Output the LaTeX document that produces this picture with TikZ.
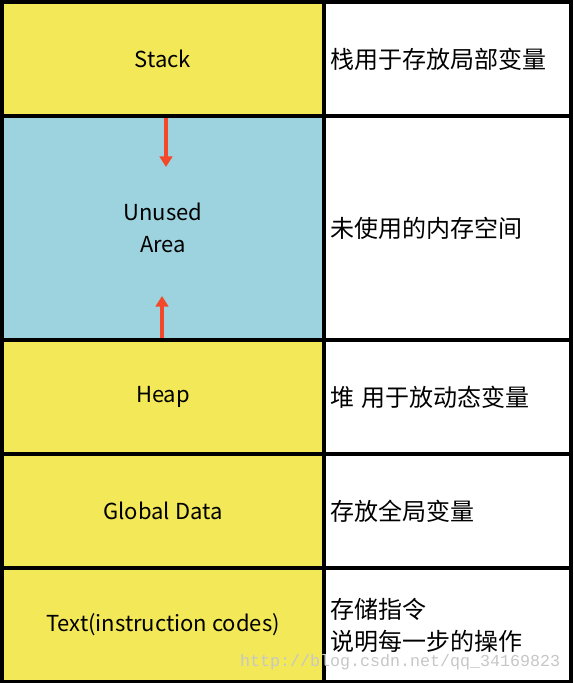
\documentclass[tikz,border=0pt]{standalone}
\usepackage{fontspec}
\setmainfont{Noto Sans CJK SC}
\newfontfamily\markfont{Liberation Mono}
\usetikzlibrary{arrows.meta, positioning}

\definecolor{segyellow}{RGB}{242,232,88}
\definecolor{segblue}{RGB}{157,211,222}
\definecolor{growred}{RGB}{244,72,42}

\tikzset{
  seg/.style={draw, line width=2.4pt, fill=segyellow, minimum width=241.5pt, inner sep=0pt, font=\fontsize{16.5}{24}\selectfont, align=center},
  note/.style={draw, line width=2.4pt, fill=white, minimum width=185.25pt, text width=176.25pt, inner xsep=4.5pt, inner ysep=0pt, align=left, font=\fontsize{18}{24}\selectfont},
  growarrow/.style={draw=growred, line width=2.6pt, -{Triangle[length=8pt, width=9.5pt]}}
}

\begin{document}
\begin{tikzpicture}[x=0.75pt, y=-0.75pt]
  \useasboundingbox (0,0) rectangle (574,683);

  % memory segments (left column)
  \node[seg, minimum height=85.5pt] (stack) at (163,59) {Stack};
  \node[seg, fill=segblue, minimum height=168pt] (unused) at (163,228) {Unused\\Area};
  \node[seg, minimum height=85.5pt] (heap) at (163,397) {Heap};
  \node[seg, minimum height=85.5pt] (global) at (163,511) {Global Data};
  \node[seg, minimum height=85.5pt] (text) at (163,625) {Text(instruction codes)};

  % descriptions (right column)
  \node[note, minimum height=85.5pt] (stacknote) at (447.5,59) {栈用于存放局部变量};
  \node[note, minimum height=168pt] (unusednote) at (447.5,228) {未使用的内存空间};
  \node[note, minimum height=85.5pt] (heapnote) at (447.5,397) {堆 用于放动态变量};
  \node[note, minimum height=85.5pt] (globalnote) at (447.5,511) {存放全局变量};
  \node[note, minimum height=85.5pt] (textnote) at (447.5,625) {存储指令\\说明每一步的操作};

  % stack grows down, heap grows up
  \coordinate (stackend) at (166,167);
  \coordinate (heapend) at (162,296);
  \draw[growarrow] (stack.south -| stackend) -- (stackend);
  \draw[growarrow] (heap.north -| heapend) -- (heapend);

  % watermark
  \node[text=black!22, font=\markfont\fontsize{12.5}{14}\selectfont, anchor=east] (mark) at (565,662) {http://blog.csdn.net/qq\_34169823};
\end{tikzpicture}
\end{document}
